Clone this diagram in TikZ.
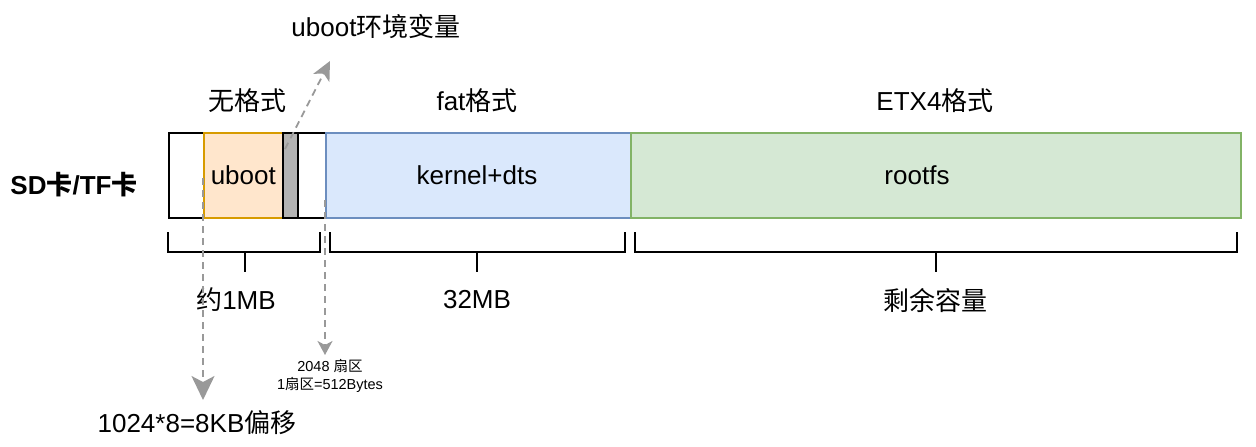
\documentclass[tikz,border=0pt]{standalone}
\usepackage{fontspec}
\setmainfont{Liberation Sans}
\newfontfamily\cjk{Noto Sans CJK SC}
\usetikzlibrary{arrows.meta}
\newcommand{\zh}[1]{{\cjk #1}}
\definecolor{obord}{HTML}{D79B00}
\definecolor{ofill}{HTML}{FFE6CC}
\definecolor{bbord}{HTML}{6C8EBF}
\definecolor{bfill}{HTML}{DAE8FC}
\definecolor{gbord}{HTML}{82B366}
\definecolor{gfill}{HTML}{D5E8D4}
\definecolor{dgray}{HTML}{999999}
\definecolor{sgray}{HTML}{B3B3B3}
\begin{document}
\begin{tikzpicture}[x=1pt,y=-1pt,
  big/.style={font=\fontsize{26}{30}\selectfont, inner sep=0pt},
  small/.style={font=\fontsize{14.5}{18}\selectfont, inner sep=0pt, align=center},
  seg/.style={line width=1.6pt, minimum height=85pt, inner sep=0pt, anchor=north west},
  brk/.style={line width=1.6pt, black},
  darr/.style={dgray, line width=1.8pt, dash pattern=on 7pt off 5pt}
]
\useasboundingbox (0,0) rectangle (1256,447);
% segments
\node[seg, draw=black, fill=white, minimum width=157pt] (raw) at (168,132) {};
\node[seg, draw=obord, fill=ofill, minimum width=79pt] (uboot) at (203,132) {};
\node[seg, draw=black, fill=sgray, minimum width=15pt] (env) at (282,132) {};
\node[seg, draw=bbord, fill=bfill, minimum width=305pt] (fat) at (325,132) {};
\node[seg, draw=gbord, fill=gfill, minimum width=610pt] (ext) at (630,132) {};
\node[big] at (uboot.center) {uboot};
\node[big] at (477,175) {kernel+dts};
\node[big] at (917,175) {rootfs};
% titles
\node[big] (t1) at (247,101) {\zh{无格式}};
\node[big] (t2) at (477,101) {fat\zh{格式}};
\node[big] (t3) at (935,101) {ETX4\zh{格式}};
\node[big] (envl) at (376,27) {uboot\zh{环境变量}};
\node[big, font=\fontsize{26}{30}\selectfont\bfseries] (card) at (74,185) {SD{\cjk\bfseries 卡}/TF{\cjk\bfseries 卡}};
% brackets
\coordinate (b1a) at (168,232); \coordinate (b1b) at (320,232);
\draw[brk] (b1a) -- (168,252) -- (320,252) -- (b1b);
\draw[brk] (245,252) -- (245,272);
\draw[brk] (330,232) -- (330,252) -- (625,252) -- (625,232);
\draw[brk] (477,252) -- (477,272);
\draw[brk] (635,232) -- (635,252) -- (1237,252) -- (1237,232);
\draw[brk] (936,252) -- (936,272);
\node[big] (s1) at (236,300) {\zh{约}1MB};
\node[big] (s2) at (477,300) {32MB};
\node[big] (s3) at (935,300) {\zh{剩余容量}};
% dashed arrows
\coordinate (o1) at (203,178);
\coordinate (o1e) at (203,400);
\draw[darr, -{Stealth[length=24pt,width=23pt,inset=6pt]}] (o1) -- (o1e);
\node[big] (off) at (197,423) {1024*8=8KB\zh{偏移}};
\coordinate (o2) at (325,200);
\coordinate (o2e) at (325,355);
\draw[darr, -{Stealth[length=14pt,width=15pt,inset=4pt]}] (o2) -- (o2e);
\node[small] (sec) at (330,376) {2048 \zh{扇区}\\1\zh{扇区}=512Bytes};
\coordinate (o3) at (285,149);
\coordinate (o3e) at (330,61);
\draw[darr, -{Stealth[length=19pt,width=18pt,inset=5pt]}] (o3) -- (o3e);
\end{tikzpicture}
\end{document}
